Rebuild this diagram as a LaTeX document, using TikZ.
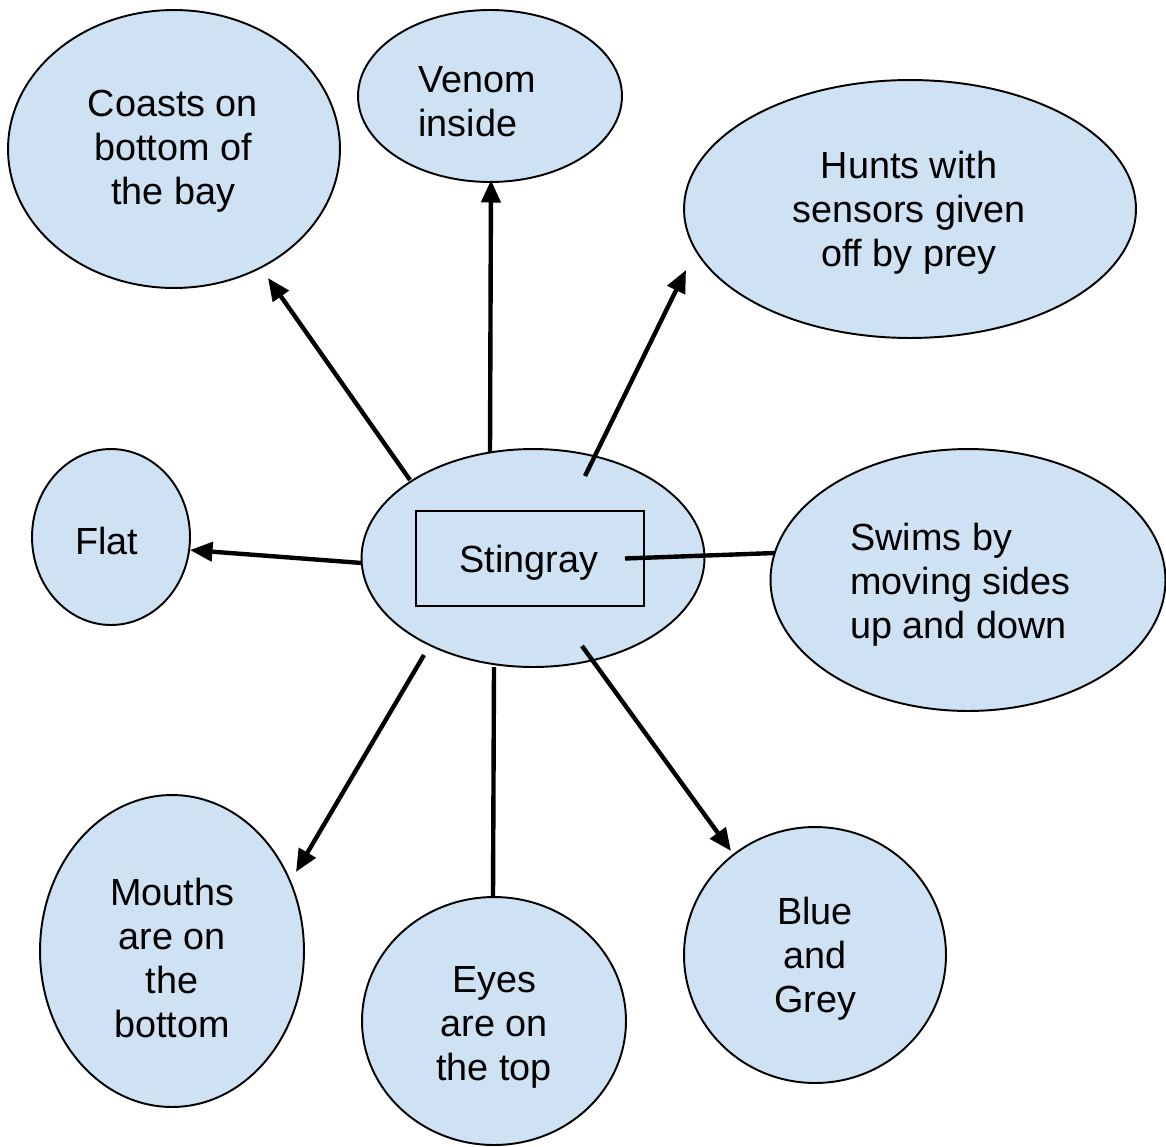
\documentclass[tikz,border=0pt]{standalone}
\usepackage{fontspec}
\setmainfont{Liberation Sans}
\usetikzlibrary{arrows.meta,shapes.geometric}
\definecolor{bubblefill}{HTML}{CFE2F3}
\begin{document}
\begin{tikzpicture}[x=0.02cm,y=-0.02cm,
  bubble/.style={ellipse,draw=black,line width=1.1pt,fill=bubblefill,inner sep=0pt},
  txt/.style={font=\fontsize{21.5pt}{25pt}\selectfont,inner sep=0pt,align=center},
  arr/.style={line width=2.5pt,-{Triangle[length=0.45cm,width=0.38cm]}},
  plain/.style={line width=2.5pt}]
\useasboundingbox (0,0) rectangle (1166,1146);
% bubbles
\node[bubble,minimum width=6.64cm,minimum height=5.56cm] (coasts) at (174,149) {};
\node[bubble,minimum width=5.28cm,minimum height=3.44cm] (venom) at (490,96) {};
\node[bubble,minimum width=9.04cm,minimum height=5.16cm] (hunts) at (910,209) {};
\node[bubble,minimum width=3.16cm,minimum height=3.52cm] (flat) at (111,537) {};
\node[bubble,minimum width=6.86cm,minimum height=4.36cm] (center) at (533,558) {};
\node[bubble,minimum width=7.9cm,minimum height=5.24cm] (swims) at (968,580) {};
\node[bubble,minimum width=5.28cm,minimum height=6.24cm] (mouths) at (172,951) {};
\node[bubble,minimum width=5.28cm,minimum height=4.96cm] (eyes) at (494,1021) {};
\node[bubble,minimum width=5.24cm,minimum height=5.12cm] (blue) at (815,955) {};
\node[draw=black,line width=1.1pt,minimum width=4.56cm,minimum height=1.9cm,inner sep=0pt] (box) at (530,558.5) {};
% texts
\node[txt] (tcoasts) at (173,151) {Coasts on\\bottom of\\the bay};
\node[txt,align=left,anchor=west] (tvenom) at (418,102) {Venom\\inside};
\node[txt] (thunts) at (909,213) {Hunts with\\sensors given\\off by prey};
\node[txt] (tflat) at (107,541) {Flat};
\node[txt] (tstingray) at (529,563) {Stingray};
\node[txt,align=left,anchor=west] (tswims) at (850,585) {Swims by\\moving sides\\up and down};
\node[txt] (tmouths) at (172,958) {Mouths\\are on\\the\\bottom};
\node[txt] (teyes) at (494,1027) {Eyes\\are on\\the top};
\node[txt] (tblue) at (815,959) {Blue\\and\\Grey};
% connector end points
\coordinate (sCoasts) at (410,480);
\coordinate (eCoasts) at (268,278);
\coordinate (sVenom) at (490,452);
\coordinate (eVenom) at (491,180);
\coordinate (sHunts) at (585,476);
\coordinate (eHunts) at (686,270);
\coordinate (sFlat) at (362,563);
\coordinate (eFlat) at (190,550);
\coordinate (sSwims) at (625,558.5);
\coordinate (eSwims) at (775,553);
\coordinate (sMouths) at (424,655);
\coordinate (eMouths) at (296,872);
\coordinate (sEyes) at (494,667);
\coordinate (eEyes) at (493,897);
\coordinate (sBlue) at (582,646);
\coordinate (eBlue) at (731,851);
% connectors
\draw[arr] (sCoasts) -- (eCoasts);
\draw[arr] (sVenom) -- (eVenom);
\draw[arr] (sHunts) -- (eHunts);
\draw[arr] (sFlat) -- (eFlat);
\draw[plain] (sSwims) -- (eSwims);
\draw[arr] (sMouths) -- (eMouths);
\draw[plain] (sEyes) -- (eEyes);
\draw[arr] (sBlue) -- (eBlue);
\end{tikzpicture}
\end{document}
